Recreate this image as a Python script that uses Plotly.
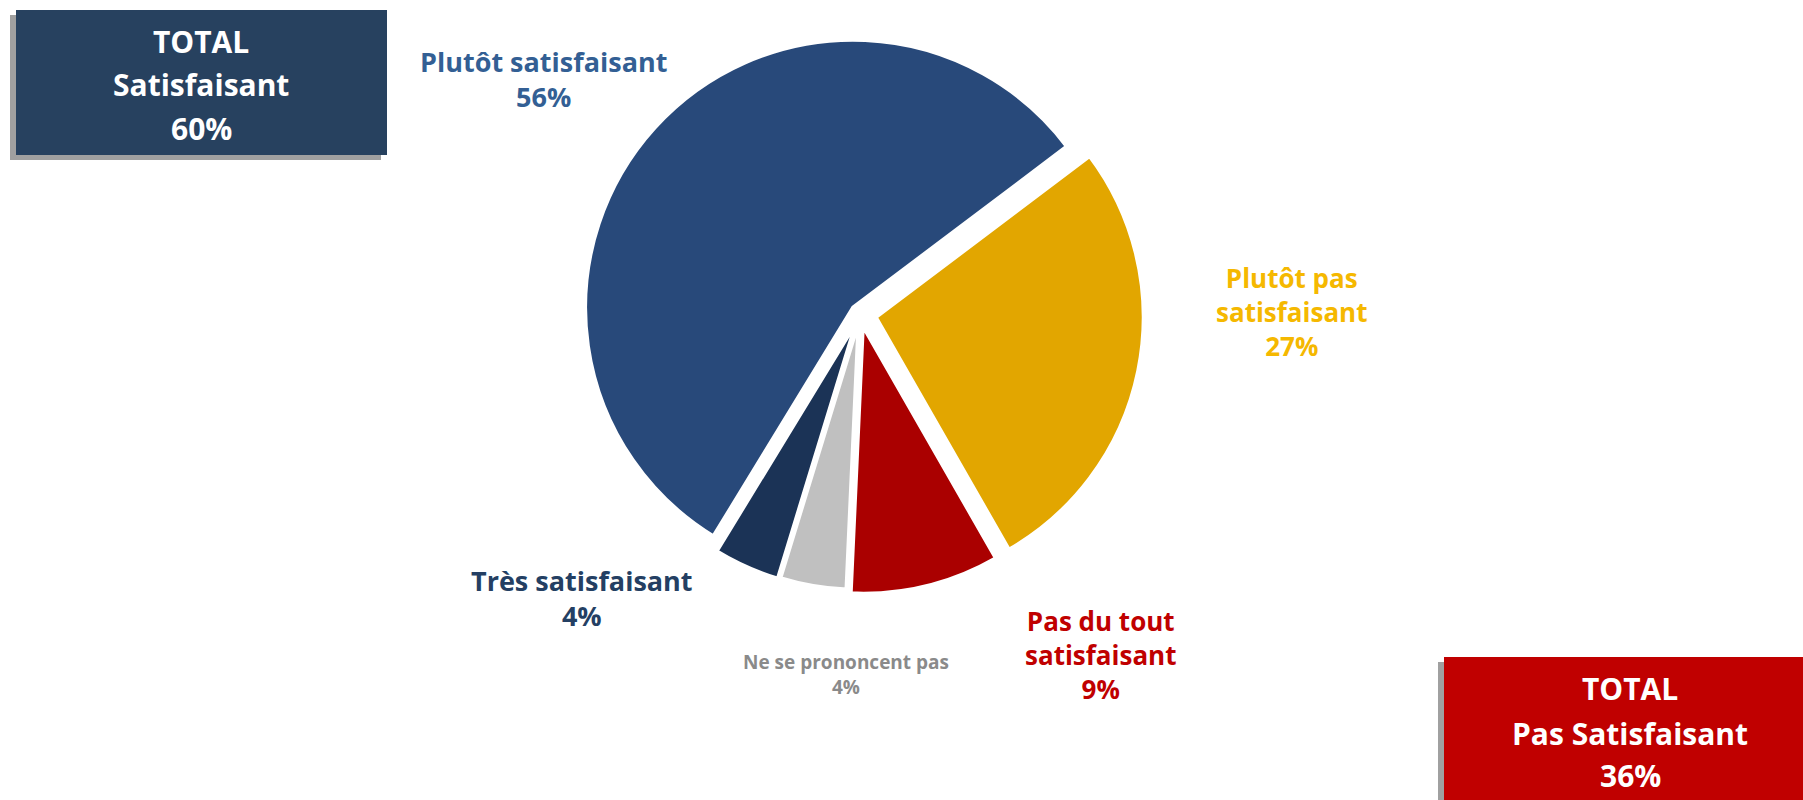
import plotly.graph_objects as go

# ---- data ----
slice_labels = ["Plutôt pas satisfaisant", "Pas du tout satisfaisant", "Ne se prononcent pas",
                "Très satisfaisant", "Plutôt satisfaisant"]
slice_values = [27, 9, 4, 4, 56]
slice_colors = ["#e2a600", "#aa0000", "#c0c0c0", "#1b3356", "#28497a"]
slice_pull = [0.06, 0.045, 0.03, 0.035, 0.035]

label_text = ["Plutôt pas<br>satisfaisant<br>27%", "Pas du tout<br>satisfaisant<br>9%",
              "Ne se prononcent pas<br>4%", "Très satisfaisant<br>4%",
              "Plutôt satisfaisant<br>56%"]
label_colors = ["#f5b800", "#c00000", "#8a8a8a", "#243f63", "#335f94"]
label_pos_px = [(1291, 312), (1100, 655), (846, 674), (582, 598), (543, 79)]
label_sizes = [26, 26, 19, 27, 27]

total_lines = [["TOTAL", "Satisfaisant", "60%"], ["TOTAL", "Pas Satisfaisant", "36%"]]
total_colors = ["#27415f", "#c00000"]
total_boxes_px = [(16, 10, 387, 155), (1444, 657, 1810, 810)]
total_line_x_px = [201, 1630]
total_line_y_px = [[42, 85, 128], [688, 733, 775]]

W, H = 1803, 800


def px(x):
    return x / W


def py(y):
    return 1 - y / H


fig = go.Figure()
fig.add_trace(go.Pie(
    labels=slice_labels,
    values=slice_values,
    sort=False,
    direction="clockwise",
    rotation=53,
    pull=slice_pull,
    marker=dict(colors=slice_colors, line=dict(color="#ffffff", width=4)),
    textinfo="none",
    hoverinfo="label+percent",
    showlegend=False,
    domain=dict(x=[px(574), px(1146)], y=[py(598), py(30)]),
))

shapes = []
for (x0, y0, x1, y1), col in zip(total_boxes_px, total_colors):
    # dotted grey shadow offset to the lower-left
    shapes.append(dict(type="rect", xref="paper", yref="paper",
                       x0=px(x0 - 6), x1=px(x1 - 6), y0=py(y1 + 5), y1=py(y0 + 5),
                       fillcolor="#a0a0a0", line=dict(width=0), layer="below"))
    shapes.append(dict(type="rect", xref="paper", yref="paper",
                       x0=px(x0), x1=px(x1), y0=py(y1), y1=py(y0),
                       fillcolor=col, line=dict(width=0), layer="below"))

annotations = []
for lines, x, ys in zip(total_lines, total_line_x_px, total_line_y_px):
    for t, y in zip(lines, ys):
        annotations.append(dict(text=f"<b>{t}</b>", x=px(x), y=py(y), xref="paper", yref="paper",
                                showarrow=False, xanchor="center", yanchor="middle", align="center",
                                font=dict(family="Open Sans", size=30, color="#ffffff")))
for t, c, (x, y), s in zip(label_text, label_colors, label_pos_px, label_sizes):
    annotations.append(dict(text=f"<b>{t}</b>", x=px(x), y=py(y), xref="paper", yref="paper",
                            showarrow=False, xanchor="center", yanchor="middle", align="center",
                            font=dict(family="Open Sans", size=s, color=c)))

fig.update_layout(
    width=W, height=H,
    margin=dict(l=0, r=0, t=0, b=0),
    paper_bgcolor="#ffffff",
    plot_bgcolor="#ffffff",
    shapes=shapes,
    annotations=annotations,
)

fig.write_html("out.html", config={"displayModeBar": False},
               post_script="document.body.style.margin='0';")
